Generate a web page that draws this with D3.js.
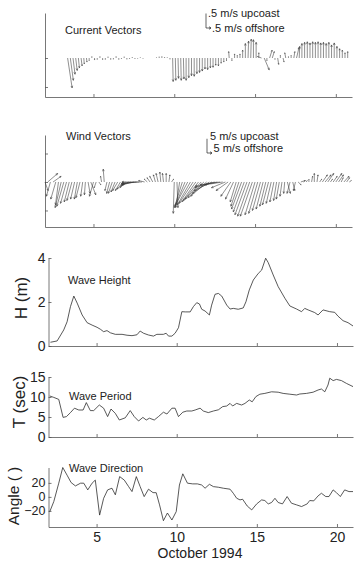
<!DOCTYPE html>
<html>
<head>
<meta charset="utf-8">
<script src="https://d3js.org/d3.v7.min.js"></script>
<style>
  body { margin: 0; background: #fff; }
  svg { display: block; }
</style>
</head>
<body>
<script>
"use strict";

// ---- shared time axis (days of October 1994) ----
var xDomain = [2, 21];
var xTicks = [5, 10, 15, 20];

// ---- current vectors (m/s), one every 4 hours from Oct 3.4 ----
var curStart = 3.4, curStep = 1 / 6;
var curV = [
  -1.03,-0.77,-0.56,-0.43,-0.34,-0.27,-0.2,-0.14,-0.09,0.05,
  -0.07,-0.05,0.05,-0.06,-0.05,0.04,-0.05,-0.04,0.05,-0.05,
  -0.03,0.04,-0.04,-0.03,0.03,-0.03,-0.02,0.02,-0.02,null,
  null,null,null,0.02,0.04,0.05,0.03,0.02,-0.04,-0.81,
  -0.77,-0.7,-0.77,-0.72,-0.77,-0.68,-0.61,-0.63,-0.54,-0.5,
  -0.45,-0.38,-0.4,-0.34,-0.32,-0.25,-0.27,-0.18,-0.14,-0.09,
  0.22,-0.09,0.14,0.09,0.14,0.27,0.5,0.58,0.65,0.63,
  0.54,0.18,0.05,-0.41,-0.09,0.27,0.22,-0.05,-0.22,0.09,
  -0.14,0.18,0.05,0.09,0.22,0.36,0.4,0.5,0.54,0.56,
  0.52,0.56,0.54,0.56,0.52,0.54,0.5,0.54,0.45,0.52,
  0.4,0.32,0.27,0.18,0.22
];
var curU = [
  0.45,0.3,0.2,0.15,0.1,0.1,0.05,0.05,0,0,
  0,0,0,0,0,0,0,0,0,0,
  0,0,0,0,0,0,0,0,0,null,
  null,null,null,0,0,0,0,0,0,0.05,
  0.05,0.05,0.05,0.05,0,0,0,0,0,0,
  0,0,0,0,0,0,0,0,0,0,
  -0.05,0,0,0,0,0,0,0.05,0.05,0,
  0,0,-0.4,0.5,0,0.25,0.2,0,0.1,0,
  0.1,-0.1,0,0,0.1,0.25,0.05,0,0,0,
  0,0,0,0,0,0,0,0,0,0,
  0,0,0,0,0
];

// ---- wind vectors (m/s), one every 4 hours from Oct 2 ----
var windStart = 2.0, windStep = 1 / 6;
var windU = [
  3,10,-4,8,-5,-3,
  -6,-7,-6,-5,-5,-4,-3,-4,-2,-1,2,
  5,-4,
  -2,2,-1,-1,
  -2,-3,-4,-4,-5,-5,-6,-6,-8,-10,-12,-14,-18,-20,-6,
  -3,-3,-3,-2,-2,-1,-1,0,1,2,
  -1,1,-4,-8,-10,-12,-13,-14,-14,-15,-16,-16,-16,-17,-18,-20,-22,-20,-18,-14,
  -12,-10,-8,-6,-8,-10,-11,-12,-12,-12,-10,-9,-8,-7,-6,-6,-5,-4,-3,-3,-2,
  -1,3,-3,2,-2,3,4,2,
  1,0,1,0,1,2,5,6,6,2,4,6,5,2,5,3,2
];
var windV = [
  -3,3,-5,2,-6,-8,
  -9,-8.5,-7.5,-7,-6.5,-6,-6,-5.5,-5,-4.5,-4,
  -4.5,-5,
  -2,-1,2,4.5,
  -3,-4,-4,-3.5,-3,-3,-2.5,-2,-1.5,-1,-1,-0.5,-0.5,0,0.5,
  1,1.5,2,2.5,3,3.5,3,3,2.5,1,
  -11,-9,-9,-9,-8.5,-8,-8,-7.5,-7,-6.5,-6,-5.5,-5,-4,-3,-2,-1.5,-1,-1,-2,
  -3,-5,-6,-7,-8.5,-9.5,-10.5,-11.5,-12,-12,-11.5,-11,-10,-9.5,-8.5,-8,-7.5,-7,-6.5,-6,-5,
  -4,-4,-4,-3,-3,-1,0.5,0.5,
  0.5,1,2,3,2.5,1,2.5,2.5,3,1,2,3,2.5,1.5,2,1.5,0.5
];

// ---- wave height (m) ----
var hDays = [2.12,2.54,2.95,3.16,3.37,3.58,3.79,4.1,4.41,4.72,5.03,5.24,5.44,5.65,5.86,
  6.17,6.59,6.9,7.21,7.52,7.72,7.93,8.24,8.55,8.76,9.17,9.34,9.49,9.7,9.9,
  10.11,10.32,10.53,10.84,11.04,11.25,11.42,11.56,11.77,12.04,12.18,12.39,12.6,12.81,13.12,
  13.33,13.53,13.84,14.15,14.32,14.53,14.78,15.09,15.3,15.55,15.71,16.02,16.33,16.75,17.06,
  17.48,17.79,17.99,18.2,18.61,18.82,19.13,19.55,19.86,20.06,20.38,20.69,21.0];
var hVals = [0.17,0.23,0.73,1.1,1.79,2.27,1.95,1.41,1.06,0.95,0.85,0.76,0.65,0.7,0.6,
  0.53,0.53,0.49,0.47,0.51,0.68,0.58,0.5,0.45,0.53,0.53,0.58,0.45,0.45,0.58,
  0.83,1.56,1.55,1.55,1.79,1.97,1.91,1.67,1.59,1.41,1.86,2.35,2.39,2.27,1.86,
  1.68,1.71,1.67,1.73,2.01,2.55,3.0,3.3,3.45,3.99,3.79,3.23,2.7,2.17,1.82,
  1.68,1.56,1.71,1.64,1.52,1.41,1.64,1.56,1.53,1.36,1.15,1.06,0.91];

// ---- wave period (s) ----
var tDays = [2.08,2.33,2.64,2.91,3.12,3.37,3.62,3.89,4.16,4.36,4.61,4.82,5.17,5.44,5.69,
  5.9,6.17,6.42,6.79,7.1,7.35,7.62,7.89,8.1,8.3,8.6,8.86,9.17,9.39,9.7,
  9.9,10.11,10.38,10.63,10.94,11.15,11.46,11.66,11.97,12.29,12.6,12.87,13.12,13.33,13.49,
  13.74,14.05,14.26,14.53,14.71,14.94,15.19,15.5,15.92,16.33,16.64,17.06,17.48,17.68,18.1,
  18.51,18.82,19.03,19.24,19.44,19.55,19.76,19.97,20.28,20.59,21.0];
var tVals = [10.25,9.9,9.4,4.9,5.1,6.1,7.2,6.75,6.75,8.6,6.6,6.6,8.0,7.2,5.1,
  7.0,5.9,4.25,4.8,6.6,5.1,4.0,4.9,4.25,4.7,4.25,5.1,6.2,5.75,7.2,
  7.2,5.1,6.2,6.5,6.5,6.75,7.2,6.5,6.1,6.5,6.8,7.6,7.75,8.4,7.75,
  8.4,8.0,8.4,9.25,8.8,10.1,10.7,10.9,11.3,11.2,10.9,10.7,10.5,10.75,10.9,
  11.2,11.75,12.0,11.3,13.0,14.7,14.1,14.4,14.1,13.4,12.6];

// ---- wave direction (deg) ----
var dDays = [2.08,2.33,2.64,2.89,3.16,3.41,3.68,4.0,4.2,4.45,4.72,4.92,5.19,5.44,5.69,
  5.96,6.17,6.44,6.73,7.0,7.21,7.48,7.72,7.97,8.24,8.52,8.72,8.93,9.17,9.42,
  9.7,9.97,10.17,10.38,10.67,11.0,11.29,11.56,11.77,12.04,12.29,12.6,12.91,13.33,13.53,
  13.74,13.95,14.11,14.4,14.68,14.99,15.3,15.5,15.71,15.92,16.13,16.33,16.6,16.89,17.16,
  17.48,17.79,18.14,18.3,18.55,18.82,19.03,19.3,19.5,19.76,19.97,20.21,20.48,20.75,21.0];
var dVals = [-21,-6.7,19.6,42,31,20.5,15.7,19.6,19.6,10,19.6,24,-26,-2,10,
  12.4,3,29,24,14.7,7.6,29,14.7,0.4,11,6.1,6,-11.4,-34,-23,
  -33,-21,17,33,19.6,18.6,18.6,17,12.4,18,14.7,13.8,12.4,11,5.2,
  -1.9,-4.3,-3.3,-13,-18.6,-10,-4.3,-5.2,-10,-8,-2,-8,-10,0.5,-9,
  -11.4,-13.8,-10,-5.2,-5.7,1.4,5.2,0.5,0.5,10,6,0.5,10,7.6,7.6];

var FONT = "'Liberation Sans', Arial, Helvetica, sans-serif";
var INK = "#222", AXIS = "#555", VEC = "#333";

var svg = d3.select("body").append("svg")
  .attr("width", 356).attr("height", 561)
  .attr("font-family", FONT);

// scales
var xTop = d3.scaleLinear().domain(xDomain).range([45, 352]);
var xBot = d3.scaleLinear().domain(xDomain).range([48.5, 353]);

var yCur = d3.scaleLinear().domain([-1.345, 1.552]).range([97, 13]);
var uCur = d3.scaleLinear().domain([0, 1]).range([0, 10]);
var yWind = d3.scaleLinear().domain([-15.8, 16.5]).range([227, 135]);
var uWind = d3.scaleLinear().domain([0, 1]).range([0, 1]);
var yH = d3.scaleLinear().domain([0, 4]).range([346, 258]);
var yT = d3.scaleLinear().domain([0, 15]).range([437, 377]);
var yD = d3.scaleLinear().domain([-43, 42]).range([527, 467.5]);

function addAxes(x, y, yTicks, yLabels, xLabels, fontSize) {
  var g = svg.append("g");
  var ya = d3.axisLeft(y).tickValues(yTicks).tickSize(-3).tickSizeOuter(0).tickPadding(3);
  if (!yLabels) ya.tickFormat("");
  else ya.tickFormat(d3.format("d"));
  var gy = g.append("g").attr("transform", "translate(" + x.range()[0] + ",0)").call(ya);
  var xa = d3.axisBottom(x).tickValues(xTicks).tickSize(-3).tickSizeOuter(0).tickPadding(5);
  if (!xLabels) xa.tickFormat("");
  var gx = g.append("g").attr("transform", "translate(0," + y.range()[0] + ")").call(xa);
  g.selectAll(".domain").attr("stroke", AXIS).attr("stroke-width", 0.8);
  g.selectAll(".tick line").attr("stroke", AXIS).attr("stroke-width", 0.8);
  g.selectAll("g").attr("font-family", null).attr("font-size", null);
  gx.selectAll("text").attr("font-size", 14).attr("fill", INK);
  gy.selectAll("text").attr("font-size", fontSize || 14).attr("fill", INK);
  return g;
}

function drawVectors(x, y, us, start, step, u, v) {
  var y0 = y(0), d = "";
  v.forEach(function (vv, i) {
    if (vv === null) return;
    var x0 = x(start + i * step);
    var x1 = x0 + us(u[i]), y1 = y(vv);
    var dx = x1 - x0, dy = y1 - y0, len = Math.hypot(dx, dy);
    if (len < 0.3) return;
    d += "M" + x0 + "," + y0 + "L" + x1 + "," + y1;
    var a = Math.atan2(dy, dx), h = Math.min(2.2, len * 0.18);
    d += "M" + (x1 - h * Math.cos(a - 0.4)) + "," + (y1 - h * Math.sin(a - 0.4)) +
         "L" + x1 + "," + y1 +
         "L" + (x1 - h * Math.cos(a + 0.4)) + "," + (y1 - h * Math.sin(a + 0.4));
  });
  svg.append("path").attr("d", d).attr("fill", "none")
    .attr("stroke", VEC).attr("stroke-width", 0.55);
}

function drawLine(x, y, days, vals) {
  var line = d3.line().x(function (d) { return x(d[0]); }).y(function (d) { return y(d[1]); });
  svg.append("path").datum(d3.zip(days, vals)).attr("d", line)
    .attr("fill", "none").attr("stroke", INK).attr("stroke-width", 0.75);
}

function label(txt, x, y, size) {
  svg.append("text").attr("x", x).attr("y", y).attr("font-size", size)
    .attr("fill", INK).text(txt);
}

function yLabel(txt, x, y, size) {
  svg.append("text").attr("transform", "translate(" + x + "," + y + ") rotate(-90)")
    .attr("text-anchor", "middle").attr("font-size", size).attr("fill", INK).text(txt);
}

function legendL(x, y, ys, us, val) {
  var top = y - (ys(0) - ys(val)), right = x + us(val);
  svg.append("path")
    .attr("d", "M" + x + "," + top + "L" + x + "," + y + "L" + right + "," + y +
      "M" + (right - 2) + "," + (y - 1.3) + "L" + right + "," + y + "L" + (right - 2) + "," + (y + 1.3))
    .attr("fill", "none").attr("stroke", INK).attr("stroke-width", 0.7);
}

// panel 1: current vectors
addAxes(xTop, yCur, [-1, 0], false, false);
drawVectors(xTop, yCur, uCur, curStart, curStep, curU, curV);
label("Current Vectors", 65, 34, 11);
legendL(206, 28, yCur, uCur, 0.5);
label(".5 m/s upcoast", 208, 17, 11);
label(".5 m/s offshore", 212, 32, 11);

// panel 2: wind vectors
addAxes(xTop, yWind, [-10, 0, 10], false, false);
drawVectors(xTop, yWind, uWind, windStart, windStep, windU, windV);
label("Wind Vectors", 66, 140, 11);
legendL(207, 153, yWind, uWind, 5);
label("5 m/s upcoast", 210, 140, 11);
label("5 m/s offshore", 213.5, 151.5, 11);

// panel 3: wave height
addAxes(xBot, yH, [0, 2, 4], true, false);
drawLine(xBot, yH, hDays, hVals);
label("Wave Height", 68, 284, 11);
yLabel("H (m)", 27, 298, 17);

// panel 4: wave period
addAxes(xBot, yT, [0, 5, 10, 15], true, false);
drawLine(xBot, yT, tDays, tVals);
label("Wave Period", 69, 400, 11);
yLabel("T (sec)", 25, 402, 17);

// panel 5: wave direction
addAxes(xBot, yD, [-20, 0, 20], true, true, 12.5);
drawLine(xBot, yD, dDays, dVals);
label("Wave Direction", 69, 472, 11);
yLabel("Angle ( )", 19, 496, 15.5);

svg.append("text").attr("x", 200).attr("y", 558).attr("text-anchor", "middle")
  .attr("font-size", 14).attr("fill", INK).text("October 1994");
</script>
</body>
</html>
